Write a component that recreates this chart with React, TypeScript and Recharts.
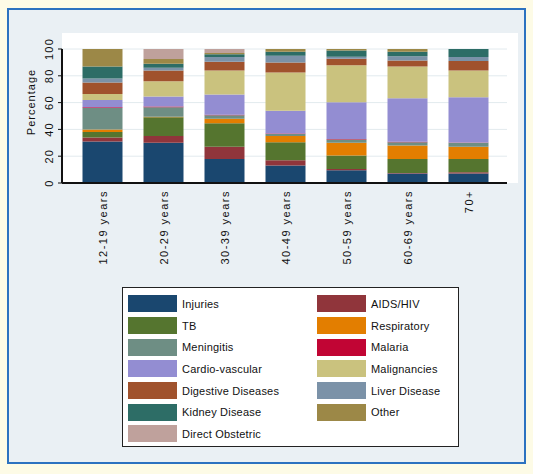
import React from 'react';
import { BarChart, Bar, XAxis, YAxis, CartesianGrid, Legend } from 'recharts';

const categories = ['12-19 years', '20-29 years', '30-39 years', '40-49 years', '50-59 years', '60-69 years', '70+'];
const yTicks = [0, 20, 40, 60, 80, 100];

const injuries = [31, 30, 18, 13, 9.5, 7, 7];
const aidsHiv = [3, 5, 9, 4, 1, 0.5, 1];
const tb = [4, 14, 17.5, 13.5, 10, 10.5, 10];
const respiratory = [2, 0.5, 3.5, 4.5, 9.5, 10, 9];
const meningitis = [16, 7, 2.5, 1.5, 2.5, 2.5, 3];
const malaria = [0.5, 0.5, 0.5, 0.5, 0.3, 0.2, 0.2];
const cardio = [5.5, 7.5, 15, 17, 27.5, 32.5, 33.8];
const malignancies = [4.5, 11.5, 18, 28.5, 27.5, 23.8, 20];
const digestive = [8.5, 8, 6.5, 7.5, 5, 4.5, 7];
const liver = [3, 2, 3.5, 5, 1.5, 3, 3];
const kidney = [9, 3, 2, 3, 4.5, 3.5, 6];
const other = [13, 3.5, 1, 2, 1.2, 2, 0];
const obstetric = [0, 7.5, 3, 0, 0, 0, 0];

const seriesNames = ['Injuries', 'AIDS/HIV', 'TB', 'Respiratory', 'Meningitis', 'Malaria', 'Cardio-vascular', 'Malignancies', 'Digestive Diseases', 'Liver Disease', 'Kidney Disease', 'Other', 'Direct Obstetric'];
const seriesValues = [injuries, aidsHiv, tb, respiratory, meningitis, malaria, cardio, malignancies, digestive, liver, kidney, other, obstetric];
const seriesColors = ['#1a476f', '#90353b', '#55752f', '#e37e00', '#6e8e84', '#c10534', '#938dd2', '#cac27e', '#a0522d', '#7b92a8', '#2d6d66', '#9c8847', '#bfa19c'];

const data = categories.map((c, i) => {
  const row: Record<string, any> = { cat: c };
  seriesValues.forEach((vals, s) => { row['s' + s] = vals[i]; });
  return row;
});

const labelFont = '"Liberation Sans", Arial, sans-serif';

const XTick = (props: any) => {
  const { x, payload } = props;
  const y = 190;
  return (
    <text x={x} y={y} transform={`rotate(-90 ${x} ${y})`} textAnchor="end" dominantBaseline="central"
      fontFamily={labelFont} fontSize={11} letterSpacing={1.5} fill="#111">{payload.value}</text>
  );
};

const YTick = (props: any) => {
  const { y, payload } = props;
  const x = 49;
  return (
    <text x={x} y={y} transform={`rotate(-90 ${x} ${y})`} textAnchor="middle" dominantBaseline="central"
      fontFamily={labelFont} fontSize={11} letterSpacing={1.2} fill="#111">{payload.value}</text>
  );
};

const LegendContent = (props: any) => {
  const payload = props.payload || [];
  const byName: Record<string, string> = {};
  payload.forEach((p: any) => { byName[p.value] = p.color; });
  return (
    <div style={{
      width: 337, height: 160, boxSizing: 'border-box', border: '1.5px solid #222', background: '#fff',
      padding: '5px 0 0 5px', display: 'grid', gridTemplateColumns: '189px 140px', gridAutoRows: '21.7px',
    }}>
      {seriesNames.map((n, s) => (
        <div key={n} style={{ display: 'flex', alignItems: 'center', height: 21.7 }}>
          <div style={{ width: 49, height: 17, background: byName[n] || seriesColors[s], marginRight: 5 }} />
          <span style={{ fontFamily: labelFont, fontSize: 11, color: '#111', letterSpacing: 0.2 }}>{n}</span>
        </div>
      ))}
    </div>
  );
};

export default function App() {
  return (
    <div style={{ position: 'absolute', left: 0, top: 0, width: 533, height: 474, background: '#fdfbe6' }}>
      <div style={{ position: 'absolute', left: 7, top: 8, width: 519, height: 456, boxSizing: 'border-box', border: '2px solid #2c72c0', background: '#eaf0f4' }} />
      <div style={{ position: 'absolute', left: 62, top: 33, width: 456, height: 150, background: '#ffffff' }} />
      <div style={{ position: 'absolute', left: 0, top: 0 }}>
        <BarChart width={533} height={474} data={data} margin={{ top: 49, right: 26, bottom: 201, left: 22 }} barCategoryGap={10.5}>
          <CartesianGrid horizontal vertical={false} stroke="#e2eaee" strokeWidth={1} />
          <XAxis dataKey="cat" tick={<XTick />} tickLine={false} axisLine={{ stroke: '#111', strokeWidth: 2 }}
            padding={{ left: 10, right: 8 }} height={90} interval={0} />
          <YAxis domain={[0, 100]} ticks={yTicks} tick={<YTick />} width={40} tickSize={4}
            tickLine={{ stroke: '#111' }} axisLine={{ stroke: '#111', strokeWidth: 2 }}
            label={{ value: 'Percentage', angle: -90, position: 'insideLeft', dx: 4, dy: -14, style: { fontFamily: labelFont, fontSize: 11, letterSpacing: 1, fill: '#111', textAnchor: 'middle' } }} />
          {seriesNames.map((n, s) => (
            <Bar key={n} dataKey={'s' + s} name={n} stackId="a" fill={seriesColors[s]} isAnimationActive={false} />
          ))}
          <Legend layout="horizontal" verticalAlign="middle" align="center" content={<LegendContent />}
            wrapperStyle={{ left: 122, top: 287, width: 337, height: 160 }} />
        </BarChart>
      </div>
    </div>
  );
}
